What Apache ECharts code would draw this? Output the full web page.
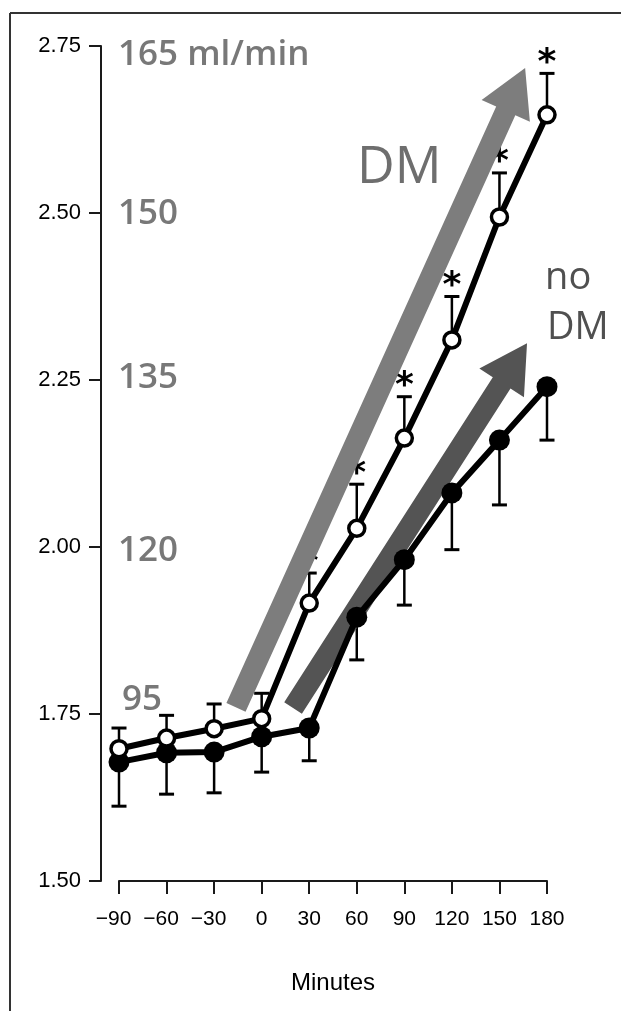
<!DOCTYPE html>
<html>
<head>
<meta charset="utf-8">
<script src="https://cdn.jsdelivr.net/npm/echarts/dist/echarts.min.js"></script>
<style>
html,body{margin:0;padding:0;background:#fff;}
#chart{width:621px;height:1011px;}
</style>
</head>
<body>
<div id="chart"></div>
<script>
// ---- data ----
const minutes = [-90, -60, -30, 0, 30, 60, 90, 120, 150, 180];
const dmMean    = [1.698, 1.714, 1.728, 1.743, 1.916, 2.028, 2.163, 2.310, 2.494, 2.647];
const dmUpper   = [1.729, 1.748, 1.765, 1.781, 1.961, 2.094, 2.225, 2.375, 2.560, 2.709];
const noDmMean  = [1.678, 1.692, 1.693, 1.716, 1.729, 1.895, 1.981, 2.081, 2.160, 2.240];
const noDmLower = [1.612, 1.630, 1.632, 1.663, 1.680, 1.831, 1.913, 1.996, 2.063, 2.160];
const dmSignificant = [false, false, false, false, true, true, true, true, true, true];

const yMin = 1.5, yMax = 2.75, yStep = 0.25;
const xMin = -90, xMax = 180, xStep = 30;
const xAxisTitle = 'Minutes';

// annotations (data coordinates)
const flowLabelTexts = ['165 ml/min', '150', '135', '120', '95'];
const flowLabelX = [-90.6, -90.6, -90.6, -90.6, -88.1];
const flowLabelY = [2.737, 2.499, 2.253, 1.994, 1.771];

const groupLabelTexts = ['DM', 'no', 'DM'];
const groupLabelX = [60.2, 178.8, 180.0];
const groupLabelY = [2.567, 2.403, 2.328];

const arrowTailX = [-16.2, 19.8];
const arrowTailY = [1.760, 1.759];
const arrowTipX  = [166.2, 167.4];
const arrowTipY  = [2.717, 2.305];

// ---- styles ----
const arrowColors = ['#7d7d7d', '#545454'];
const groupLabelStyles = [
  {font: '400 52px "Open Sans"', fill: '#6e6e6e'},
  {font: '500 38px "Open Sans"', fill: '#505050'},
  {font: '500 38px "Open Sans"', fill: '#505050'}
];

const chart = echarts.init(document.getElementById('chart'), null, {renderer: 'canvas'});

function fmtX(v) {
  return v < 0 ? '{neg|\u2212' + Math.abs(v) + '}' : '{pos|' + v + '}';
}
const xLabelFont = {fontSize: 21, fontFamily: '"Liberation Sans", Arial, sans-serif', color: '#000'};

function errorBarRenderer(ends, sigFlags) {
  return function (params, api) {
    const x = api.value(0), m = api.value(1), e = ends[params.dataIndex];
    const a = api.coord([x, m]);
    const b = api.coord([x, e]);
    const children = [
      {type: 'line', shape: {x1: a[0], y1: a[1], x2: b[0], y2: b[1]}, style: {stroke: '#000', lineWidth: 2.5}},
      {type: 'line', shape: {x1: b[0] - 7.5, y1: b[1], x2: b[0] + 7.5, y2: b[1]}, style: {stroke: '#000', lineWidth: 3}}
    ];
    if (sigFlags && sigFlags[params.dataIndex]) {
      children.push({type: 'text', x: b[0], y: b[1] - 10,
        style: {text: '*', font: 'bold 36px "DejaVu Sans"', fill: '#000', align: 'center', verticalAlign: 'middle'}});
    }
    return {type: 'group', children: children};
  };
}

const option = {
  animation: false,
  backgroundColor: '#fff',
  grid: {left: 119, right: 74, top: 46, bottom: 130, containLabel: false},
  xAxis: {
    type: 'value', min: xMin, max: xMax, interval: xStep,
    name: xAxisTitle, nameLocation: 'middle', nameGap: 90,
    nameTextStyle: {fontSize: 24, fontFamily: '"Liberation Sans", Arial, sans-serif', color: '#000'},
    axisLine: {show: true, onZero: false, lineStyle: {color: '#1a1a1a', width: 2}},
    axisTick: {show: true, inside: false, length: 13, lineStyle: {color: '#1a1a1a', width: 2}},
    splitLine: {show: false},
    axisLabel: {
      margin: 28, formatter: fmtX,
      rich: {
        neg: Object.assign({padding: [0, 11, 0, 0]}, xLabelFont),
        pos: Object.assign({}, xLabelFont)
      }
    }
  },
  yAxis: {
    type: 'value', min: yMin, max: yMax, interval: yStep, offset: 18,
    axisLine: {show: true, onZero: false, lineStyle: {color: '#1a1a1a', width: 2}},
    axisTick: {show: true, inside: false, length: 12, lineStyle: {color: '#1a1a1a', width: 2}},
    splitLine: {show: false},
    axisLabel: {margin: 20, fontSize: 22, fontFamily: '"Liberation Sans", Arial, sans-serif', color: '#000',
      formatter: v => v.toFixed(2)}
  },
  graphic: [
    {type: 'line', shape: {x1: 10, y1: 13, x2: 621, y2: 13}, style: {stroke: '#333', lineWidth: 2}, z: 100},
    {type: 'line', shape: {x1: 10, y1: 13, x2: 10, y2: 1011}, style: {stroke: '#333', lineWidth: 2}, z: 100}
  ],
  series: [
    {
      type: 'custom', name: 'DM error', coordinateSystem: 'cartesian2d', clip: false, z: 1,
      data: minutes.map((m, i) => [m, dmMean[i]]),
      renderItem: errorBarRenderer(dmUpper, dmSignificant)
    },
    {
      type: 'custom', name: 'no DM error', coordinateSystem: 'cartesian2d', clip: false, z: 1,
      data: minutes.map((m, i) => [m, noDmMean[i]]),
      renderItem: errorBarRenderer(noDmLower, null)
    },
    {
      type: 'custom', name: 'arrows', coordinateSystem: 'cartesian2d', clip: false, z: 2,
      data: arrowTailX.map((x, i) => [x, arrowTailY[i], arrowTipX[i], arrowTipY[i]]),
      renderItem: function (params, api) {
        const p0 = api.coord([api.value(0), api.value(1)]);
        const p1 = api.coord([api.value(2), api.value(3)]);
        const dx = p1[0] - p0[0], dy = p1[1] - p0[1];
        const L = Math.hypot(dx, dy);
        const ux = dx / L, uy = dy / L, nx = -uy, ny = ux;
        const hw = 10.5, headW = 26.5, headL = 47;
        const bx = p1[0] - ux * headL, by = p1[1] - uy * headL;
        const pts = [
          [p0[0] + nx * hw, p0[1] + ny * hw],
          [bx + nx * hw, by + ny * hw],
          [bx + nx * headW, by + ny * headW],
          [p1[0], p1[1]],
          [bx - nx * headW, by - ny * headW],
          [bx - nx * hw, by - ny * hw],
          [p0[0] - nx * hw, p0[1] - ny * hw]
        ];
        return {type: 'polygon', shape: {points: pts}, style: {fill: arrowColors[params.dataIndex]}};
      }
    },
    {
      type: 'line', name: 'no DM', z: 3,
      data: minutes.map((m, i) => [m, noDmMean[i]]),
      symbol: 'circle', symbolSize: 21,
      itemStyle: {color: '#000', borderColor: '#000', borderWidth: 0},
      lineStyle: {color: '#000', width: 6},
      emphasis: {disabled: true}
    },
    {
      type: 'line', name: 'DM', z: 4,
      data: minutes.map((m, i) => [m, dmMean[i]]),
      symbol: 'circle', symbolSize: 16,
      itemStyle: {color: '#fff', borderColor: '#000', borderWidth: 3.5},
      lineStyle: {color: '#000', width: 6},
      emphasis: {disabled: true}
    },
    {
      type: 'custom', name: 'flow labels', coordinateSystem: 'cartesian2d', clip: false, z: 5,
      data: flowLabelX.map((x, i) => [x, flowLabelY[i]]),
      renderItem: function (params, api) {
        const c = api.coord([api.value(0), api.value(1)]);
        return {type: 'text', x: c[0], y: c[1],
          style: {text: flowLabelTexts[params.dataIndex], font: '600 35px "Open Sans"', fill: '#787878',
            align: 'left', verticalAlign: 'middle'}};
      }
    },
    {
      type: 'custom', name: 'group labels', coordinateSystem: 'cartesian2d', clip: false, z: 5,
      data: groupLabelX.map((x, i) => [x, groupLabelY[i]]),
      renderItem: function (params, api) {
        const c = api.coord([api.value(0), api.value(1)]);
        const s = groupLabelStyles[params.dataIndex];
        return {type: 'text', x: c[0], y: c[1],
          style: {text: groupLabelTexts[params.dataIndex], font: s.font, fill: s.fill,
            align: 'left', verticalAlign: 'middle'}};
      }
    }
  ]
};
chart.setOption(option);
</script>
</body>
</html>
